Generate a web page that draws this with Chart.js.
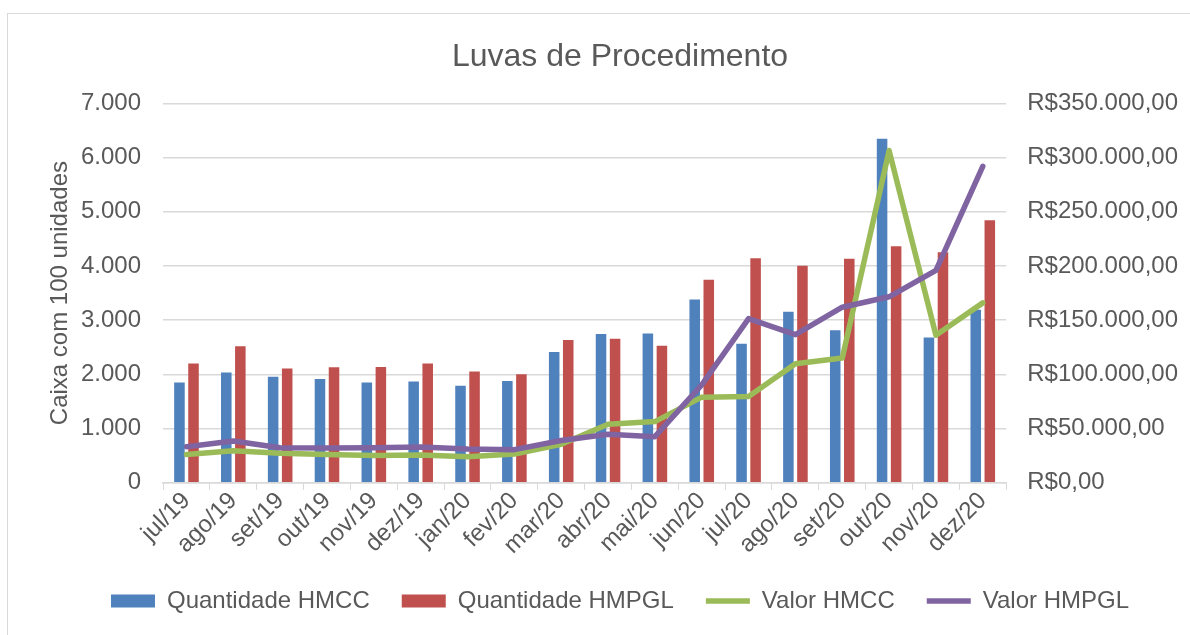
<!DOCTYPE html>
<html lang="pt">
<head>
  <meta charset="UTF-8" />
  <title>Luvas de Procedimento</title>
  <style>
    body {
      margin: 0;
      padding: 0;
      background-color: #fff;
      overflow: hidden;
      font-family: "Liberation Sans", Arial, sans-serif;
    }
    .moldura {
      position: absolute;
      left: 7px;
      top: 13px;
      width: 1300px;
      height: 700px;
      border: 1.5px solid #d9d9d9;
    }
    /* o canvas passa um pouco da janela para o eixo da direita caber */
    .grafico {
      position: absolute;
      left: 0;
      top: 0;
      width: 1200px;
      height: 635px;
    }
  </style>
  <script src="https://cdn.jsdelivr.net/npm/chart.js"></script>
</head>
<body>
  <div class="moldura"></div>
  <div class="grafico">
    <canvas id="luvasChart" width="1200" height="635"></canvas>
  </div>

  <script>
    // Dados
    const meses = ['jul/19', 'ago/19', 'set/19', 'out/19', 'nov/19', 'dez/19', 'jan/20', 'fev/20', 'mar/20',
      'abr/20', 'mai/20', 'jun/20', 'jul/20', 'ago/20', 'set/20', 'out/20', 'nov/20', 'dez/20'];
    const quantidadeHMCC = [1850, 2035, 1955, 1915, 1850, 1870, 1790, 1880, 2415,
      2747, 2753, 3383, 2568, 3154, 2815, 6346, 2679, 3191];
    const quantidadeHMPGL = [2200, 2520, 2110, 2130, 2135, 2200, 2055, 2005, 2635,
      2660, 2530, 3747, 4142, 4006, 4136, 4364, 4253, 4846];
    const valorHMCC = [26200, 29600, 27200, 26200, 25300, 25600, 24100, 26500, 35500,
      54000, 56500, 79000, 79600, 109900, 115100, 306500, 136100, 166000];
    const valorHMPGL = [33300, 38600, 32400, 32100, 32400, 33000, 31200, 30600, 39000,
      44750, 42600, 90400, 151500, 136700, 162000, 171600, 196000, 292000];

    const corTexto = '#595959';
    const corGrade = '#d9d9d9';

    // formata 7000 -> "7.000"
    function milhar(n) {
      return Math.round(n).toString().replace(/\B(?=(\d{3})+(?!\d))/g, '.');
    }
    function reais(n) {
      return 'R$' + milhar(n) + ',00';
    }

    Chart.defaults.font.family = '"Liberation Sans", Arial, sans-serif';
    Chart.defaults.font.size = 24;
    Chart.defaults.color = corTexto;

    const ctx = document.getElementById('luvasChart').getContext('2d');
    new Chart(ctx, {
      type: 'bar',
      data: {
        labels: meses,
        datasets: [
          {
            label: 'Quantidade HMCC',
            data: quantidadeHMCC,
            backgroundColor: '#4f81bd',
            yAxisID: 'y',
            order: 2,
            categoryPercentage: 0.6,
            barPercentage: 0.75,
            pointStyle: 'rect'
          },
          {
            label: 'Quantidade HMPGL',
            data: quantidadeHMPGL,
            backgroundColor: '#c0504d',
            yAxisID: 'y',
            order: 3,
            categoryPercentage: 0.6,
            barPercentage: 0.75,
            pointStyle: 'rect'
          },
          {
            type: 'line',
            label: 'Valor HMCC',
            data: valorHMCC,
            borderColor: '#9bbb59',
            backgroundColor: '#9bbb59',
            borderWidth: 5.5,
            borderCapStyle: 'round',
            borderJoinStyle: 'round',
            pointRadius: 0,
            tension: 0,
            yAxisID: 'y1',
            order: 1,
            pointStyle: 'line'
          },
          {
            type: 'line',
            label: 'Valor HMPGL',
            data: valorHMPGL,
            borderColor: '#8064a2',
            backgroundColor: '#8064a2',
            borderWidth: 5.5,
            borderCapStyle: 'round',
            borderJoinStyle: 'round',
            pointRadius: 0,
            tension: 0,
            yAxisID: 'y1',
            order: 0,
            pointStyle: 'line'
          }
        ]
      },
      options: {
        responsive: false,
        animation: false,
        layout: {
          padding: { top: 16, left: 41, right: 1, bottom: 12 }
        },
        plugins: {
          title: {
            display: true,
            text: 'Luvas de Procedimento',
            color: corTexto,
            font: { size: 32, weight: 'normal' },
            padding: { top: 22, bottom: 27 }
          },
          legend: {
            position: 'bottom',
            labels: {
              usePointStyle: true,
              pointStyleWidth: 44,
              boxHeight: 13,
              padding: 32,
              color: corTexto,
              sort: (a, b) => a.datasetIndex - b.datasetIndex
            }
          },
          tooltip: { enabled: false }
        },
        scales: {
          x: {
            grid: {
              display: true,
              drawOnChartArea: false,
              offset: true,
              tickLength: 7,
              color: corGrade
            },
            border: { color: corGrade, width: 1.5 },
            ticks: {
              autoSkip: false,
              maxRotation: 45,
              minRotation: 45,
              padding: -3,
              color: corTexto
            }
          },
          y: {
            position: 'left',
            min: 0,
            max: 7000,
            grid: { color: corGrade, lineWidth: 1.5, drawTicks: false },
            border: { display: false },
            ticks: {
              stepSize: 1000,
              padding: 22,
              color: corTexto,
              callback: (v) => milhar(v)
            },
            title: {
              display: true,
              text: 'Caixa com 100 unidades',
              color: corTexto,
              font: { size: 24 },
              padding: { top: 4.6, bottom: -15.4 }
            }
          },
          y1: {
            position: 'right',
            min: 0,
            max: 350000,
            grid: { drawOnChartArea: false, drawTicks: false },
            border: { display: false },
            ticks: {
              stepSize: 50000,
              padding: 21,
              color: corTexto,
              callback: (v) => reais(v)
            }
          }
        }
      }
    });
  </script>
</body>
</html>
